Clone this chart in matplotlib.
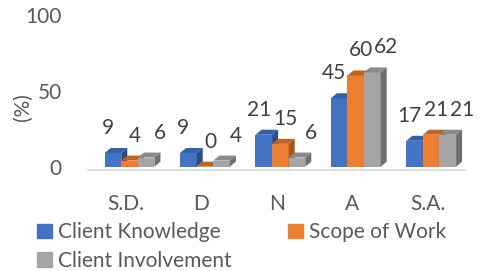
import matplotlib
matplotlib.use("Agg")
import matplotlib.pyplot as plt
from matplotlib.patches import Polygon, Patch
import numpy as np

categories = ["S.D.", "D", "N", "A", "S.A."]
series_names = ["Client Knowledge", "Scope of Work", "Client Involvement"]
client_knowledge = [9, 9, 21, 45, 17]
scope_of_work = [4, 0, 15, 60, 21]
client_involvement = [6, 4, 6, 62, 21]
yticks = [0, 50, 100]

values = [client_knowledge, scope_of_work, client_involvement]
front = ["#4472C4", "#ED7D31", "#A5A5A5"]
topc = ["#3360A8", "#C0651F", "#8A8A8A"]
sidec = ["#2A4C87", "#A65418", "#6F6F6F"]
label_dx = [-5, 5, 14]  # pixel offsets of data labels

plt.rcParams['font.family'] = ['Lato', 'DejaVu Sans']
FS = 15

fig = plt.figure(figsize=(4.84, 2.71), dpi=100)
ax = fig.add_axes([0.182, 0.385, 0.779, 0.561])

x = np.arange(len(categories))
w = 0.22
shift = 0.05
ddx, ddy = 0.08, 3.3

for i, (vals, fc) in enumerate(zip(values, front)):
    xs = x + (i - 1) * w + shift
    bars = ax.bar(xs, vals, width=w, color=fc, zorder=3 + i)
    for b, v in zip(bars, vals):
        x0 = b.get_x(); x1 = x0 + b.get_width()
        ax.add_patch(Polygon([(x0, v), (x1, v), (x1 + ddx, v + ddy), (x0 + ddx, v + ddy)],
                             closed=True, color=topc[i], lw=0, zorder=3 + i))
        ax.add_patch(Polygon([(x1, 0), (x1 + ddx, ddy), (x1 + ddx, v + ddy), (x1, v)],
                             closed=True, color=sidec[i], lw=0, zorder=3 + i))
        ax.annotate(str(v), (b.get_x() + w / 2, v), xytext=(label_dx[i], 25),
                    textcoords='offset pixels', ha='center', va='center',
                    fontsize=FS, color='#404040', zorder=10)

# floor line
ax.plot([-0.5, 4.5], [-2.5, -2.5], color='#D9D9D9', lw=1.2, zorder=1, clip_on=False)

ax.set_xlim(-0.5, 4.5)
ax.set_ylim(0, 100)
ax.set_xticks(x)
ax.set_xticklabels(categories)
ax.set_yticks(yticks)
ax.tick_params(length=0, labelsize=FS, colors='#595959')
ax.tick_params(axis='x', pad=20)
ax.tick_params(axis='y', pad=19)
for s in ax.spines.values():
    s.set_visible(False)
fig.text(23 / 484, 1 - 107 / 271, "(%)", rotation=90, ha='center', va='center',
         fontsize=FS, color='#595959')

# legend, row-major order: Client Knowledge, Scope of Work / Client Involvement
order = [0, 2, 1]
handles = [Patch(color=front[k]) for k in order]
labels = [series_names[k] for k in order]
fig.legend(handles, labels, loc='upper left', bbox_to_anchor=(0.077, 0.18),
           ncol=2, frameon=False, fontsize=FS, labelcolor='#595959',
           handlelength=0.7, handleheight=0.7, handletextpad=0.3,
           columnspacing=2.7, labelspacing=0.4, borderpad=0, borderaxespad=0)

fig.savefig("out.png", dpi=100)
